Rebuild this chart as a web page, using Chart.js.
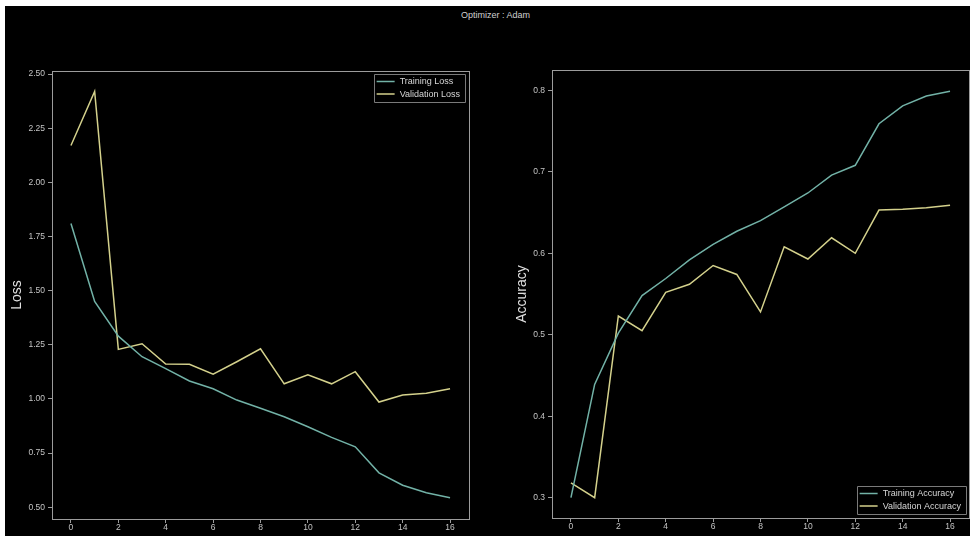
<!DOCTYPE html>
<html>
<head>
<meta charset="utf-8">
<script src="https://cdn.jsdelivr.net/npm/chart.js@4.4.0/dist/chart.umd.min.js"></script>
<style>
  html, body { margin: 0; padding: 0; background: #fff; }
  #page { position: absolute; left: 5px; top: 6px; width: 965px; height: 530px; background: #000; }
  #title { position: absolute; left: 8px; width: 975px; top: 10px; text-align: center;
           font: 9px "Liberation Sans", Arial, sans-serif; color: #d0d0d0; }
  #lossBox { position: absolute; left: 5px; top: 60px; width: 475px; height: 476px; }
  #accBox { position: absolute; left: 480px; top: 60px; width: 490px; height: 476px; }
</style>
</head>
<body>
<div id="page"></div>
<div id="title">Optimizer : Adam</div>
<div id="lossBox"><canvas id="lossChart"></canvas></div>
<div id="accBox"><canvas id="accChart"></canvas></div>
<script>
// data
const epochs = [0, 1, 2, 3, 4, 5, 6, 7, 8, 9, 10, 11, 12, 13, 14, 15, 16];
const trainLoss = [1.81, 1.45, 1.29, 1.195, 1.14, 1.083, 1.047, 0.995, 0.957, 0.918, 0.872, 0.823, 0.779, 0.659, 0.602, 0.567, 0.544];
const valLoss = [2.17, 2.42, 1.229, 1.255, 1.161, 1.160, 1.115, 1.172, 1.232, 1.070, 1.112, 1.070, 1.126, 0.986, 1.018, 1.027, 1.047];
const trainAcc = [0.300, 0.439, 0.502, 0.548, 0.569, 0.592, 0.611, 0.627, 0.640, 0.657, 0.674, 0.696, 0.708, 0.759, 0.781, 0.793, 0.799];
const valAcc = [0.318, 0.300, 0.523, 0.505, 0.552, 0.562, 0.585, 0.574, 0.528, 0.608, 0.593, 0.619, 0.600, 0.653, 0.654, 0.656, 0.659];

const xTicks = [0, 2, 4, 6, 8, 10, 12, 14, 16];
const lossTicks = [0.5, 0.75, 1.0, 1.25, 1.5, 1.75, 2.0, 2.25, 2.5];
const accTicks = [0.3, 0.4, 0.5, 0.6, 0.7, 0.8];

const teal = '#72b2a7';
const yellow = '#d4d18c';
const frame = '#9c9c9c';
const tickTxt = '#c4c4c4';
const fontFam = '"Liberation Sans", Arial, sans-serif';

function pts(ys) {
    return epochs.map((e, i) => ({x: e, y: ys[i]}));
}

// box round the plot area (matplotlib style)
const frameBox = {
    id: 'frameBox',
    afterDatasetsDraw(chart) {
        const a = chart.chartArea;
        const ctx = chart.ctx;
        ctx.save();
        ctx.strokeStyle = frame;
        ctx.lineWidth = 1;
        ctx.strokeRect(Math.round(a.left) + 0.5, Math.round(a.top) + 0.5,
            Math.round(a.right - a.left), Math.round(a.bottom - a.top));
        ctx.restore();
    }
};

// legend drawn inside the plot, with a box
const boxLegend = {
    id: 'boxLegend',
    afterDraw(chart, args, opts) {
        const ctx = chart.ctx;
        const a = chart.chartArea;
        const ds = chart.data.datasets;
        ctx.save();
        ctx.font = '9px ' + fontFam;
        let tw = 0;
        ds.forEach(d => { tw = Math.max(tw, ctx.measureText(d.label).width); });
        const w = 26 + tw + 5, h = 28;
        const x0 = a.right - opts.right - w;
        const y0 = opts.corner === 'top' ? a.top + opts.top : a.bottom - opts.bottom - h;
        ctx.fillStyle = '#000';
        ctx.strokeStyle = '#7a7a7a';
        ctx.lineWidth = 1;
        ctx.beginPath();
        ctx.rect(Math.round(x0) + 0.5, Math.round(y0) + 0.5, Math.round(w), h);
        ctx.fill();
        ctx.stroke();
        ds.forEach((d, i) => {
            const yy = y0 + 7.5 + i * 12.5;
            ctx.strokeStyle = d.borderColor;
            ctx.lineWidth = 1.5;
            ctx.beginPath();
            ctx.moveTo(x0 + 3, yy);
            ctx.lineTo(x0 + 21, yy);
            ctx.stroke();
            ctx.fillStyle = '#d6d6d6';
            ctx.textBaseline = 'middle';
            ctx.fillText(d.label, x0 + 26, yy + 0.5);
        });
        ctx.restore();
    }
};

function makeChart(id, sets, yMin, yMax, yTicks, digits, yTitle, yWidth, xHeight, titlePad, pad, legendOpts) {
    return new Chart(document.getElementById(id), {
        type: 'line',
        data: {
            datasets: sets.map(s => ({
                label: s.label,
                data: pts(s.data),
                borderColor: s.color,
                borderWidth: 1.5,
                pointRadius: 0,
                tension: 0
            }))
        },
        options: {
            responsive: true,
            maintainAspectRatio: false,
            animation: false,
            layout: {padding: pad},
            plugins: {
                legend: {display: false},
                tooltip: {enabled: false},
                boxLegend: legendOpts
            },
            scales: {
                x: {
                    type: 'linear',
                    min: -0.8,
                    max: 16.8,
                    afterBuildTicks: s => { s.ticks = xTicks.map(v => ({value: v})); },
                    afterFit: s => { s.height = xHeight; },
                    ticks: {color: tickTxt, font: {family: fontFam, size: 8.5}, padding: 0, maxRotation: 0},
                    grid: {drawOnChartArea: false, tickLength: 4, color: frame},
                    border: {color: frame}
                },
                y: {
                    min: yMin,
                    max: yMax,
                    afterBuildTicks: s => { s.ticks = yTicks.map(v => ({value: v})); },
                    afterFit: s => { s.width = yWidth; },
                    ticks: {
                        color: tickTxt,
                        font: {family: fontFam, size: 8.5},
                        padding: 3,
                        callback: v => Number(v).toFixed(digits)
                    },
                    grid: {drawOnChartArea: false, tickLength: 4, color: frame},
                    border: {color: frame},
                    title: {
                        display: true,
                        text: yTitle,
                        color: '#e0e0e0',
                        font: {family: fontFam, size: 14},
                        padding: {top: titlePad, bottom: 0}
                    }
                }
            }
        },
        plugins: [frameBox, boxLegend]
    });
}

makeChart('lossChart',
    [{label: 'Training Loss', data: trainLoss, color: teal},
     {label: 'Validation Loss', data: valLoss, color: yellow}],
    0.446, 2.514, lossTicks, 2, 'Loss', 47, 17, 4,
    {top: 11, right: 11, left: 0, bottom: 0},
    {corner: 'top', right: 4, top: 3});

makeChart('accChart',
    [{label: 'Training Accuracy', data: trainAcc, color: teal},
     {label: 'Validation Accuracy', data: valAcc, color: yellow}],
    0.275, 0.825, accTicks, 1, 'Accuracy', 72, 18, 34,
    {top: 10, right: 1, left: 0, bottom: 0},
    {corner: 'bottom', right: 3, bottom: 4});
</script>
</body>
</html>
